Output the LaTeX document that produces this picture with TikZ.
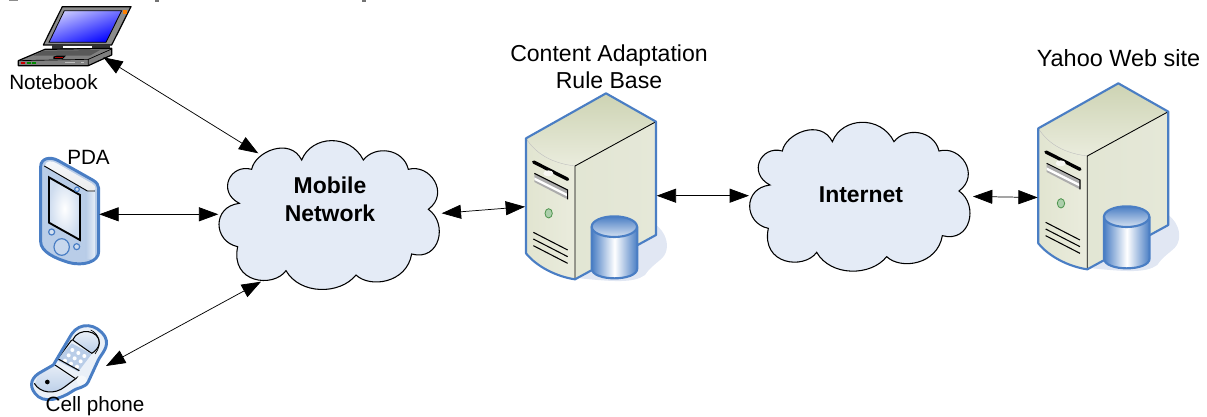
\documentclass[tikz,border=0pt]{standalone}
\usepackage{fontspec}
\setmainfont{Liberation Sans}
\usetikzlibrary{arrows.meta}
\definecolor{cloudfill}{HTML}{E4EBF6}
\definecolor{devblue}{HTML}{4A7EC4}
\definecolor{srvfront}{HTML}{EAECDD}
\definecolor{srvside}{HTML}{E5E8D8}
\definecolor{srvtop}{HTML}{CDD3B3}
\definecolor{shadowblue}{HTML}{E1E7F3}
\definecolor{lightblue}{HTML}{B9CDE8}
\tikzset{
  link/.style={{Triangle[length=14.5pt,width=10.5pt]}-{Triangle[length=14.5pt,width=10.5pt]},line width=0.55pt,black},
  lbl/.style={font=\fontsize{15.5pt}{18.5pt}\selectfont,inner sep=0pt,align=center},
  lblbig/.style={font=\fontsize{17.3pt}{20pt}\selectfont,inner sep=0pt,align=center},
  lblyahoo/.style={font=\fontsize{17.6pt}{20pt}\selectfont,inner sep=0pt,align=center},
  cloudlbl/.style={font=\bfseries\fontsize{17.2pt}{21pt}\selectfont,inner sep=0pt,align=center},
  cloudshape/.style={draw=black,fill=cloudfill,line width=0.8pt},
  blueline/.style={draw=devblue,line width=1.6pt,line join=round}
}
\newcommand{\cloudpath}{%
  (155,148) .. controls (165,95) and (270,50) .. (305,120)
  .. controls (335,45) and (450,40) .. (490,120)
  .. controls (525,75) and (610,85) .. (625,148)
  .. controls (690,130) and (750,220) .. (685,268)
  .. controls (745,310) and (720,425) .. (635,402)
  .. controls (620,490) and (510,505) .. (468,465)
  .. controls (420,525) and (300,525) .. (258,452)
  .. controls (220,505) and (90,490) .. (113,380)
  .. controls (40,365) and (35,260) .. (118,250)
  .. controls (50,215) and (90,130) .. (155,148) -- cycle}
\newcommand{\serverart}{%
  \fill[shadowblue] (440,420) .. controls (500,440) and (520,510) .. (480,540)
    .. controls (450,565) and (445,570) .. (435,585) .. controls (400,610) and (340,605) .. (240,595) -- cycle;
  \shade[left color=srvfront!70!srvtop,right color=srvfront] (78,175) -- (225,258) -- (225,598) .. controls (170,590) and (110,560) .. (78,520) -- cycle;
  \shade[left color=srvside!88!srvtop,right color=srvside] (225,258) -- (468,125) -- (468,465) -- (225,598) -- cycle;
  \shade[top color=srvtop,bottom color=srvfront] (78,175) -- (318,40) -- (468,125) -- (225,258) .. controls (160,250) and (110,225) .. (78,175) -- cycle;
  \draw[gray!50,line width=0.3pt] (78,175) .. controls (110,225) and (160,250) .. (225,258);
  \draw[black,line width=0.65pt] (225,598) -- (225,258) -- (468,125);
  \fill[gray!65] (103,282) -- (203,332) -- (203,358) -- (103,306) -- cycle;
  \fill[white] (103,292) -- (203,342) -- (203,350) -- (103,300) -- cycle;
  \draw[black,line width=0.8pt] (103,280) -- (203,330) -- (203,358);
  \draw[black,line width=2.5pt,line cap=round] (101,246) -- (203,298);
  \fill[srvfront!30!white] (145,280) ellipse [x radius=15,y radius=9];
  \draw[draw=black!30!green!40!gray,line width=0.6pt,fill=srvtop!30!green!35!gray!55] (146,400) ellipse [x radius=11,y radius=14];
  \draw[black,line width=0.8pt] (100,457) -- (203,510) (100,477) -- (203,530) (100,497) -- (203,550);
  \draw[blueline] (78,175) -- (318,40) -- (468,125) -- (468,465) -- (225,598) .. controls (170,590) and (110,560) .. (78,520) -- cycle;
  \shade[left color=devblue,right color=devblue,middle color=white] (275,440) -- (275,565) .. controls (275,605) and (412,605) .. (412,565) -- (412,440) -- cycle;
  \shade[top color=devblue,bottom color=lightblue!60!white] (343,440) ellipse [x radius=68,y radius=31];
  \draw[devblue,line width=1.6pt] (275,440) -- (275,565) .. controls (275,605) and (412,605) .. (412,565) -- (412,440);
  \draw[devblue,line width=1.6pt] (343,440) ellipse [x radius=68,y radius=31];
}
\begin{document}
\begin{tikzpicture}[x=0.75pt,y=-0.75pt]
\useasboundingbox (0,0) rectangle (1207,417);
% clipped remnants at the top edge
\fill[black!45] (9,0) rectangle (18,1.2);
\fill[black!55] (155,0) rectangle (159,1.8);
\fill[black!55] (362,0) rectangle (366,1.8);
% ---- clouds
\begin{scope}[shift={(200,120)},scale=1/3]
  \draw[cloudshape] \cloudpath;
\end{scope}
\begin{scope}[shift={(730.67,101.67)},scale=1/3]
  \draw[cloudshape] \cloudpath;
\end{scope}
\node[cloudlbl] (mobile) at (330,199.5) {Mobile\\Network};
\node[cloudlbl] (internet) at (861,195) {Internet};
% ---- servers
\begin{scope}[shift={(500,80)},scale=1/3]
  \serverart
\end{scope}
\begin{scope}[shift={(1012.3,70)},scale=1/3]
  \serverart
\end{scope}
\node[lblbig] (rulebase) at (609,67) {Content Adaptation\\Rule Base};
\node[lblyahoo] (yahoo) at (1118.5,58.5) {Yahoo Web site};
% ---- notebook
\begin{scope}[scale=1/3]
  \fill[black!45] (187,20) -- (393,20) -- (335,135) -- (130,135) -- cycle;
  \draw[black,line width=0.9pt,line join=round] (187,20) -- (393,20) -- (335,135) -- (130,135) -- cycle;
  \shade[left color=blue!22!white,right color=blue,shading angle=20] (193,32) -- (365,32) -- (318,127) -- (147,127) -- cycle;
  \draw[black,line width=0.6pt] (193,32) -- (365,32) -- (318,127) -- (147,127) -- cycle;
  \fill[orange] (369,31) rectangle (380,42);
  \fill[black!80] (155,135) rectangle (330,148);
  \fill[white] (190,138) rectangle (275,144);
  \fill[black!50] (135,148) -- (335,145) -- (335,165) -- (265,197) -- (55,197) -- (55,182) -- cycle;
  \draw[black,line width=0.9pt,line join=round] (135,148) -- (335,145) -- (335,165) -- (265,197) -- (55,197) -- (55,182) -- cycle;
  \draw[black,line width=0.5pt] (55,182) -- (265,178) -- (335,147) (265,178) -- (265,197);
  \fill[black!65] (100,167) -- (130,152) -- (300,150) -- (270,167) -- cycle;
  \fill[black] (160,170) -- (170,167) -- (198,167) -- (188,177) -- (160,177) -- cycle;
  \fill[red!70!black] (165,170) rectangle (190,174);
  \fill[red!80!black] (63,186) rectangle (75,192);
  \fill[green!55!black] (80,186) rectangle (92,192);
  \fill[green!55!black] (97,186) rectangle (109,192);
  \fill[black!25] (195,186) rectangle (225,190);
  \fill[black!25] (243,186) rectangle (252,190);
\end{scope}
\node[lbl] (notebook) at (53.5,82) {Notebook};
% ---- PDA
\begin{scope}[shift={(0,130)},scale=1/3]
  \fill[lightblue] (122,110) .. controls (122,85) and (150,78) .. (175,92) -- (278,150) .. controls (290,157) and (296,165) .. (296,175) -- (296,365) .. controls (296,395) and (250,410) .. (205,397) .. controls (165,385) and (122,365) .. (122,335) -- cycle;
  \shade[left color=lightblue,right color=white!60!lightblue] (258,185) rectangle (283,385);
  \shade[top color=white!85!lightblue,bottom color=white!85!gray] (135,108) .. controls (135,92) and (155,90) .. (170,100) -- (275,160) .. controls (292,170) and (290,185) .. (270,185) .. controls (220,160) and (170,130) .. (135,108) -- cycle;
  \draw[black,line width=0.7pt] (133,108) -- (262,183) -- (285,183);
  \shade[inner color=white,outer color=lightblue!70!white] (147,142) -- (240,195) -- (240,330) -- (147,278) -- cycle;
  \draw[black,line width=1.4pt,line join=miter] (147,142) -- (240,195) -- (240,330) -- (147,278) -- cycle;
  \draw[devblue,line width=0.9pt,fill=lightblue!60!white] (155,306) circle (9);
  \draw[devblue,line width=0.9pt,fill=lightblue!70!white] (230,350) circle (9);
  \draw[devblue,line width=0.9pt,fill=lightblue!70!white] (231,178) circle (7);
  \draw[devblue,line width=0.9pt,fill=lightblue!80!white] (185,351) ellipse [x radius=23,y radius=25];
  \draw[devblue,line width=2.2pt,line join=round] (122,110) .. controls (122,85) and (150,78) .. (175,92) -- (278,150) .. controls (290,157) and (296,165) .. (296,175) -- (296,365) .. controls (296,395) and (250,410) .. (205,397) .. controls (165,385) and (122,365) .. (122,335) -- cycle;
\end{scope}
\node[lbl] (pda) at (88.5,157.5) {PDA};
% ---- cell phone
\begin{scope}[shift={(0,130)},scale=1/3]
  \fill[white!70!lightblue] (215,612) .. controls (240,575) and (290,580) .. (315,620) .. controls (330,650) and (305,670) .. (295,690) -- (265,755) .. controls (255,775) and (235,770) .. (215,785) .. controls (185,805) and (130,825) .. (105,790) .. controls (85,765) and (95,740) .. (125,725) -- (160,705) -- cycle;
  \shade[top color=white!85!lightblue,bottom color=lightblue] (218,630) .. controls (235,590) and (300,600) .. (298,640) .. controls (295,655) and (285,665) .. (275,670) -- cycle;
  \draw[black,line width=0.8pt] (218,630) .. controls (235,590) and (300,600) .. (298,640) .. controls (295,655) and (285,665) .. (275,670) -- cycle;
  \draw[black,line width=0.5pt] (272,600) .. controls (295,610) and (310,640) .. (285,672);
  \fill[lightblue] (215,640) -- (275,672) -- (235,725) -- (170,690) -- cycle;
  \foreach \i in {0,1,2} \foreach \j in {0,1,2}
    \fill[white] ({217+\i*18-\j*11},{660+\i*9+\j*16}) circle (6);
  \draw[black,line width=0.8pt] (215,630) -- (170,690) (165,705) -- (225,745) (175,687) -- (238,722);
  \shade[top color=white!60!lightblue,bottom color=lightblue] (115,735) -- (160,710) -- (225,748) -- (190,775) .. controls (160,795) and (120,785) .. (105,760) -- cycle;
  \draw[black,line width=0.8pt] (103,760) .. controls (120,790) and (165,795) .. (195,770) -- (235,740);
  \fill[black] (142,756) circle (7);
  \fill[white!85!lightblue] (245,752) circle (16);
  \draw[devblue,line width=2.2pt,line join=round] (215,612) .. controls (240,575) and (290,580) .. (315,620) .. controls (330,650) and (305,670) .. (295,690) -- (265,755) .. controls (255,775) and (235,770) .. (215,785) .. controls (185,805) and (130,825) .. (105,790) .. controls (85,765) and (95,740) .. (125,725) -- (160,705) -- cycle;
\end{scope}
\node[lbl] (cell) at (95,406.5) {Cell phone};
% ---- connector anchors
\coordinate (nbEnd) at (103.3,57.3);
\coordinate (mNw) at (258.3,153.3);
\coordinate (pdaEnd) at (99.3,214.3);
\coordinate (mW) at (218.3,214.3);
\coordinate (cellEnd) at (106,366);
\coordinate (mSw) at (261,281.7);
\coordinate (mE) at (441.7,213.3);
\coordinate (s1W) at (525,206.7);
\coordinate (s1E) at (656.7,195.7);
\coordinate (iW) at (749,195.7);
\coordinate (iE) at (973,196.5);
\coordinate (s2W) at (1037.7,197.5);
\draw[link] (nbEnd) -- (mNw);
\draw[link] (pdaEnd) -- (mW);
\draw[link] (cellEnd) -- (mSw);
\draw[link] (mE) -- (s1W);
\draw[link] (s1E) -- (iW);
\draw[link] (iE) -- (s2W);
\end{tikzpicture}
\end{document}
